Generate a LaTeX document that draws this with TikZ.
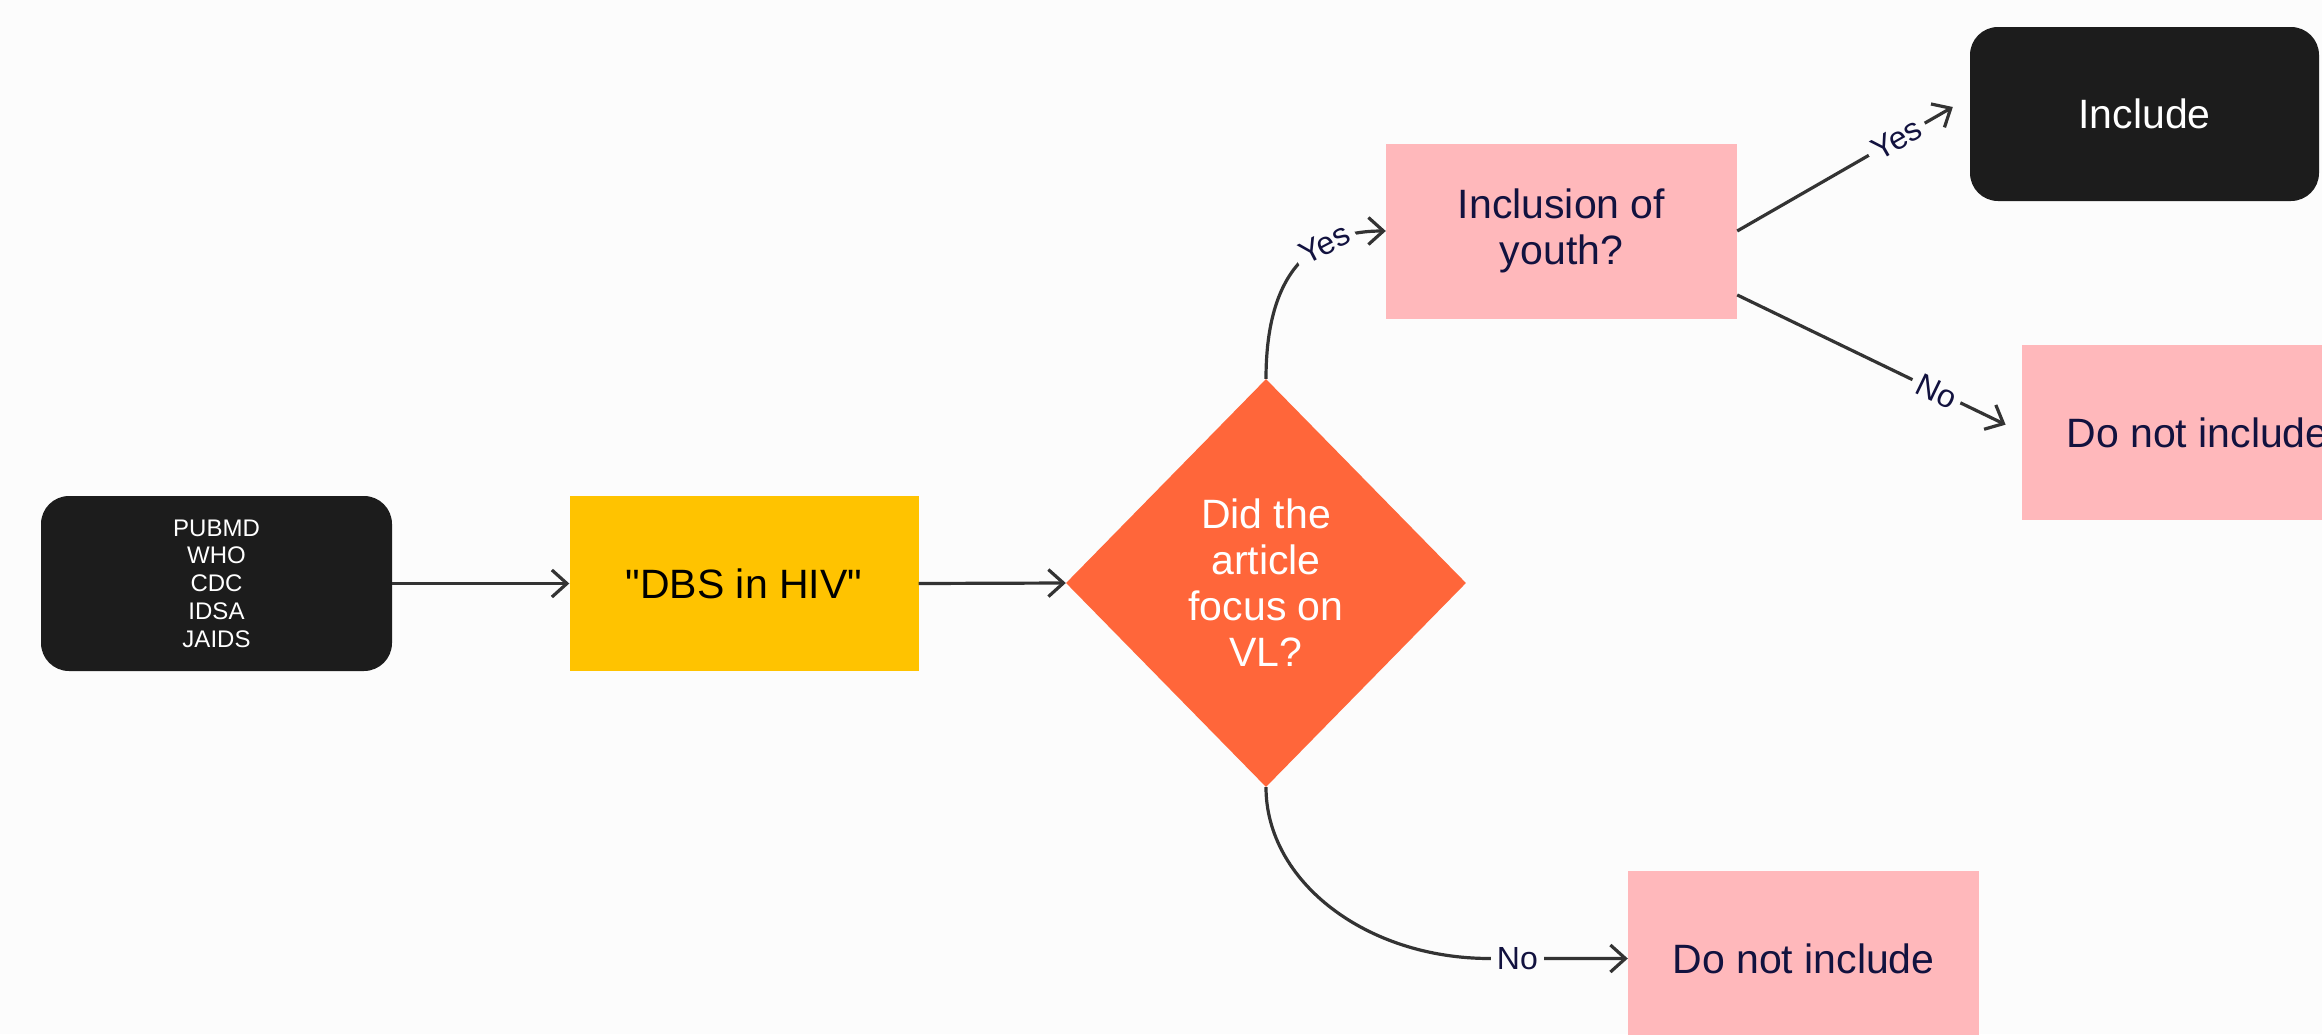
\documentclass[tikz,border=0pt]{standalone}
\usepackage{fontspec}
\setmainfont{Liberation Sans}[Ligatures=TeXOff]
\usetikzlibrary{shapes.geometric,arrows.meta,calc}
\definecolor{bg}{HTML}{FCFCFC}
\definecolor{boxblack}{HTML}{1C1C1C}
\definecolor{dbsyellow}{HTML}{FFC300}
\definecolor{vlorange}{HTML}{FF663A}
\definecolor{pinkbox}{HTML}{FFB8BB}
\definecolor{navy}{HTML}{12123F}
\definecolor{linegrey}{HTML}{333333}
\begin{document}
\begin{tikzpicture}[x=1pt,y=-1pt,
  bigtext/.style={font=\fontsize{41}{46}\selectfont},
  darkbox/.style={rectangle, rounded corners=28pt, fill=boxblack, text=white,
    minimum width=351pt, minimum height=175pt, inner sep=0pt, align=center},
  pinkrect/.style={rectangle, fill=pinkbox, text=navy, minimum width=351pt,
    minimum height=175pt, inner sep=0pt, align=center, bigtext},
  conn/.style={draw=linegrey, line width=3.2pt,
    -{Straight Barb[length=15pt,width=27pt,line width=3.2pt]}},
  lbl/.style={fill=bg, text=navy, inner sep=6pt, font=\fontsize{32}{36}\selectfont},
]
\useasboundingbox (0,0) rectangle (2322,1034);
\fill[bg] (0,0) rectangle (2322,1034);
\clip (0,0) rectangle (2322,1034);

% nodes
\node[darkbox, font=\fontsize{24}{27.7}\selectfont] (src) at (216.5,583.5)
  {PUBMD\\WHO\\CDC\\IDSA\\JAIDS};
\node[rectangle, fill=dbsyellow, text=black, minimum width=349pt, minimum height=175pt,
  inner sep=0pt, bigtext] (dbs) at (744,583.5) {"DBS in HIV"};
\node[diamond, fill=vlorange, text=white, minimum width=400pt, minimum height=408pt,
  inner sep=0pt, align=center, bigtext] (dia) at (1266,583) {Did the\\article\\focus on\\VL?};
\node[pinkrect] (inc) at (1561.5,231) {Inclusion of\\youth?};
\node[darkbox, minimum width=349pt, minimum height=174pt, bigtext] (incl) at (2144.5,114) {Include};
\node[pinkrect] (dni1) at (2197.5,432.5) {Do not include};
\node[pinkrect] (dni2) at (1803.5,958.5) {Do not include};

% helper coordinates
\coordinate (nobend) at ($(dni2.west)+(-138,0)$);
\coordinate (yestip) at ($(incl.west)+(-17,-7)$);

% connectors
\draw[conn] (src.east) -- (dbs.west);
\draw[conn] (dbs.east) -- (dia.west);
\draw[conn] (dia.north) .. controls +(0,-100) and +(-80,0) ..
  node[lbl, sloped, pos=0.7] {Yes} (inc.west);
\draw[conn] (dia.south) .. controls +(0,94) and +(-124,0) .. (nobend)
  -- node[lbl, pos=0.2] {No} (dni2.west);
\draw[conn] (inc.east) -- node[lbl, sloped, pos=0.74] {Yes} (yestip);
\draw[conn, shorten >=18pt] (inc.-20) -- node[lbl, sloped, pos=0.7] {No} (dni1.west);
\end{tikzpicture}
\end{document}
